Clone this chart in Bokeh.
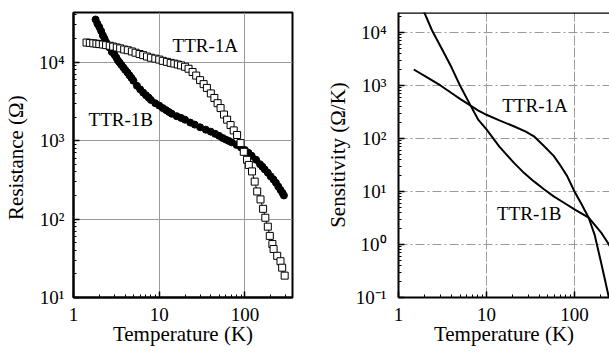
from bokeh.plotting import figure
from bokeh.layouts import row
from bokeh.models import FixedTicker, CustomJSTickFormatter, Range1d, Label, Span
from bokeh.embed import file_html
from bokeh.resources import INLINE

# ---------------- data ----------------
# Left panel: resistance vs temperature
t_1a = [1.42, 1.55, 1.7, 1.85, 2.0, 2.2, 2.4, 2.65, 2.9, 3.2, 3.5, 3.9, 4.3, 4.8, 5.3, 5.9,
        6.5, 7.2, 8.0, 9.0, 10, 11, 12.3, 13.6, 15, 16.5, 18, 20, 22, 24.5, 27, 30, 33, 36,
        40, 44, 48, 52, 57, 62, 68, 74, 81, 89, 97, 106, 111, 121, 130, 139, 152, 163, 173,
        185, 195, 209, 216, 238, 260, 272, 291]
r_1a = [17800, 17600, 17400, 17200, 17000, 16800, 16500, 16200, 15800, 15400, 15000, 14500,
        14200, 13700, 13200, 12700, 12300, 11800, 11400, 11100, 10800, 10400, 10100, 9800,
        9600, 9350, 9100, 8750, 8250, 7500, 6750, 5900, 5250, 4700, 4000, 3500, 3000, 2600,
        2150, 1850, 1580, 1350, 1180, 930, 720, 570, 490, 405, 300, 225, 178, 135, 104, 80,
        61, 48, 41.5, 34, 29, 24, 19]

t_1b = [1.81, 1.9, 2.0, 2.1, 2.2, 2.3, 2.4, 2.5, 2.6, 2.8, 3.0, 3.15, 3.3, 3.45, 3.6, 3.8,
        4.0, 4.25, 4.5, 4.75, 5.0, 5.5, 6.0, 6.5, 7.0, 7.5, 8.0, 9.0, 10, 11, 12, 13, 14, 16,
        18, 20, 23, 26, 30, 35, 40, 45, 50, 55, 60, 65, 70, 80, 90, 100, 110, 120, 135, 150,
        160, 170, 185, 200, 215, 230, 245, 260, 275, 285]
r_1b = [35000, 31000, 28000, 25000, 22000, 20000, 18000, 16500, 15500, 13500, 12500, 11500,
        10500, 9900, 9300, 8600, 8000, 7400, 6800, 6300, 5800, 5000, 4500, 4100, 3800, 3550,
        3300, 3000, 2800, 2600, 2450, 2320, 2200, 2050, 1950, 1850, 1700, 1600, 1480, 1380,
        1300, 1220, 1150, 1080, 1030, 990, 950, 880, 820, 760, 700, 640, 570, 500, 465, 430,
        390, 350, 320, 290, 260, 235, 215, 200]

# Right panel: sensitivity vs temperature
ts_1a = [1.49, 2, 3, 4, 5, 6.6, 8, 10, 14, 20.4, 28, 34.6, 45, 58, 70, 82.6, 100, 120, 145,
         170, 197, 220, 246, 260]
s_1a = [2000, 1500, 1000, 720, 560, 417, 340, 280, 220, 170, 135, 110, 72, 47, 30, 19.5, 10,
        5.8, 3.2, 1.5, 0.52, 0.23, 0.1, 0.06]

ts_1b = [1.8, 1.94, 2.4, 3.27, 4, 5, 6.6, 8, 10, 14, 20.4, 27, 34.6, 45, 58, 80, 100, 145,
         200, 246, 260]
s_1b = [32000, 25000, 11000, 4200, 2200, 1000, 417, 230, 148, 70, 35, 22, 15.5, 11, 8.1, 5.8,
        4.6, 3.2, 1.7, 1.0, 0.85]

x_major = [1, 10, 100]
x_minor = [2, 3, 4, 5, 6, 7, 8, 9, 20, 30, 40, 50, 60, 70, 80, 90, 200, 300]
yl_major = [10, 100, 1000, 10000]
yl_minor = [m * d for d in (10, 100, 1000, 10000) for m in range(2, 10)]
yr_major = [0.1, 1, 10, 100, 1000, 10000]
yr_minor = [m * d for d in (0.1, 1, 10, 100, 1000, 10000) for m in range(2, 10)]

FONT = "Liberation Serif"

sup_fmt = CustomJSTickFormatter(code="""
const sup = {'0':'\u2070','1':'\u00b9','2':'\u00b2','3':'\u00b3','4':'\u2074','5':'\u2075',
             '6':'\u2076','7':'\u2077','8':'\u2078','9':'\u2079','-':'\u207b'};
const e = Math.round(Math.log10(tick));
return '10' + String(e).split('').map(c => sup[c]).join('');
""")
plain_fmt = CustomJSTickFormatter(code="return String(Math.round(tick));")


def style(p, ymaj, ymin, ylabel, ylab_standoff, ytick_standoff):
    p.xaxis.ticker = FixedTicker(ticks=x_major, minor_ticks=x_minor)
    p.yaxis.ticker = FixedTicker(ticks=ymaj, minor_ticks=ymin)
    p.xaxis.formatter = plain_fmt
    p.yaxis.formatter = sup_fmt
    for ax in (p.xaxis, p.yaxis):
        ax.axis_line_width = 2
        ax.axis_line_color = "black"
        ax.major_tick_in = 6
        ax.major_tick_out = 0
        ax.minor_tick_in = 3
        ax.minor_tick_out = 0
        ax.major_tick_line_width = 1.5
        ax.major_label_text_font = FONT
        ax.major_label_text_font_size = "19px"
        ax.major_label_text_color = "black"
        ax.axis_label_text_font = FONT
        ax.axis_label_text_font_size = "21px"
        ax.axis_label_text_font_style = "normal"
        ax.axis_label_text_color = "black"
    p.xaxis.axis_label = "Temperature (K)"
    p.xaxis.major_label_standoff = 10
    p.xaxis.axis_label_standoff = -2
    p.yaxis.axis_label = ylabel
    p.yaxis.axis_label_standoff = ylab_standoff
    p.yaxis.major_label_standoff = ytick_standoff
    p.xgrid.ticker = FixedTicker(ticks=[10, 100])
    p.ygrid.ticker = FixedTicker(ticks=ymaj)
    p.background_fill_color = "white"
    p.border_fill_color = "white"


# ---------------- left panel ----------------
p1 = figure(width=300, height=352, x_axis_type="log", y_axis_type="log",
            x_range=Range1d(1, 359), y_range=Range1d(10, 43000),
            output_backend="svg", toolbar_location=None,
            min_border_left=73, min_border_right=8, min_border_top=10, min_border_bottom=55)
style(p1, yl_major, yl_minor, "Resistance  (\u03a9)", 8, 9)
p1.outline_line_color = "black"
p1.outline_line_width = 2
p1.xgrid.grid_line_color = "#9a9a9a"
p1.ygrid.grid_line_color = "#9a9a9a"
p1.xgrid.grid_line_width = 1
p1.ygrid.grid_line_width = 1

p1.line(t_1b, r_1b, line_color="black", line_width=1.5)
p1.scatter(t_1b, r_1b, marker="circle", size=7, fill_color="black", line_color="black")
p1.line(t_1a, r_1a, line_color="black", line_width=1)
p1.scatter(t_1a, r_1a, marker="square", size=7, fill_color="white", line_color="black",
           line_width=1)

p1.add_layout(Label(x=14.3, y=16400, text="TTR-1A", text_font=FONT, text_font_size="19px",
                    text_baseline="alphabetic", text_align="left", text_color="black"))
p1.add_layout(Label(x=1.5, y=1840, text="TTR-1B", text_font=FONT, text_font_size="19px",
                    text_baseline="alphabetic", text_align="left", text_color="black"))

# ---------------- right panel ----------------
p2 = figure(width=309, height=352, x_axis_type="log", y_axis_type="log",
            x_range=Range1d(1, 250), y_range=Range1d(0.1, 23800),
            output_backend="svg", toolbar_location=None,
            min_border_left=98, min_border_right=0, min_border_top=12, min_border_bottom=54)
style(p2, yr_major, yr_minor, "Sensitivity (\u03a9/K)", 3, 12)
p2.outline_line_color = None
p2.xgrid.grid_line_color = "#9a9a9a"
p2.ygrid.grid_line_color = "#9a9a9a"
p2.xgrid.grid_line_dash = "10 2"
p2.ygrid.grid_line_dash = "9 3 2 3"
p2.add_layout(Span(location=23800, dimension="width", line_color="black", line_width=2.5))

p2.line(ts_1a, s_1a, line_color="black", line_width=2)
p2.line(ts_1b, s_1b, line_color="black", line_width=2)

p2.add_layout(Label(x=15.1, y=419, text="TTR-1A", text_font=FONT, text_font_size="19px",
                    text_baseline="alphabetic", text_align="left", text_color="black"))
p2.add_layout(Label(x=13.2, y=3.85, text="TTR-1B", text_font=FONT, text_font_size="19px",
                    text_baseline="alphabetic", text_align="left", text_color="black"))

layout = row(p1, p2)
open("out.html", "w").write(file_html(layout, INLINE))
